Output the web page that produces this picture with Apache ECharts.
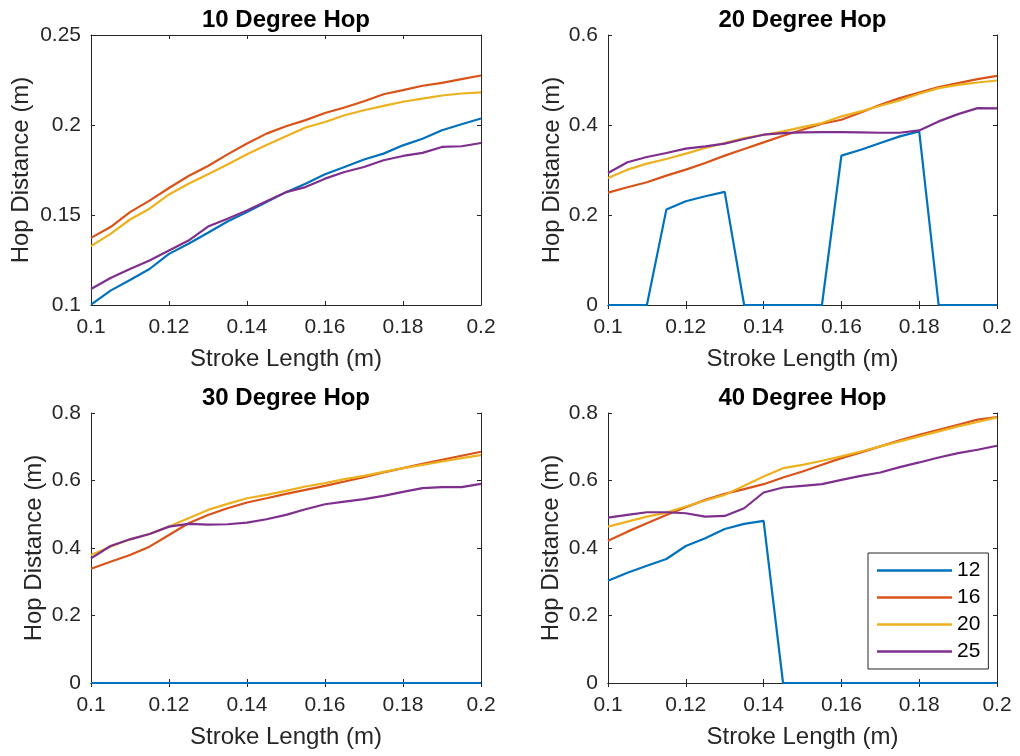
<!DOCTYPE html>
<html>
<head>
<meta charset="utf-8">
<script src="https://cdn.jsdelivr.net/npm/echarts@6/dist/echarts.min.js"></script>
<style>
html,body{margin:0;padding:0;background:#fff;}
#chart{width:1020px;height:756px;}
</style>
</head>
<body>
<div id="chart"></div>
<script>
// ---- data ----
const strokeLength = [0.1,0.105,0.11,0.115,0.12,0.125,0.13,0.135,0.14,0.145,0.15,0.155,0.16,0.165,0.17,0.175,0.18,0.185,0.19,0.195,0.2];
const seriesNames = ['12','16','20','25'];
const panelTitles = ['10 Degree Hop','20 Degree Hop','30 Degree Hop','40 Degree Hop'];
const xTicks = {min:0.1, max:0.2, interval:0.02};
const yTicks = [
  {min:0.1, max:0.25, interval:0.05},
  {min:0, max:0.6, interval:0.2},
  {min:0, max:0.8, interval:0.2},
  {min:0, max:0.8, interval:0.2}
];

const deg10_12 = [0.1002,0.108,0.1139,0.12,0.1284,0.134,0.1401,0.1464,0.1516,0.1572,0.1627,0.1674,0.1726,0.1767,0.1808,0.1841,0.1887,0.1924,0.1971,0.2004,0.2036];
const deg10_16 = [0.1373,0.1433,0.1516,0.158,0.165,0.1717,0.1772,0.1837,0.1897,0.1952,0.1993,0.2027,0.2067,0.2097,0.2132,0.2171,0.2194,0.2218,0.2234,0.2255,0.2275];
const deg10_20 = [0.1327,0.1395,0.1475,0.1535,0.1614,0.1674,0.1726,0.1781,0.1837,0.1889,0.1937,0.1986,0.2017,0.2054,0.2082,0.2106,0.2129,0.2147,0.2164,0.2175,0.2181];
const deg10_25 = [0.1089,0.115,0.12,0.1247,0.1303,0.1358,0.1436,0.1479,0.1525,0.1577,0.1627,0.1655,0.1702,0.1739,0.1767,0.1804,0.1828,0.1845,0.1878,0.1882,0.19];

const deg20_12 = [0,0,0,0.212,0.2306,0.2417,0.2513,0,0,0,0,0,0.3319,0.345,0.36,0.3747,0.3858,0,0,0,0];
const deg20_16 = [0.2498,0.2616,0.2727,0.2875,0.3008,0.3156,0.3319,0.3466,0.3614,0.3762,0.3895,0.4028,0.4117,0.4279,0.4449,0.4597,0.4723,0.4841,0.493,0.5018,0.5092];
const deg20_20 = [0.2823,0.3008,0.3141,0.3245,0.3363,0.3489,0.36,0.371,0.3784,0.3858,0.3954,0.4043,0.4191,0.4302,0.4427,0.4545,0.4693,0.4819,0.4893,0.4945,0.4989];
const deg20_25 = [0.2934,0.3171,0.3289,0.3378,0.3474,0.3526,0.3585,0.3688,0.3784,0.3821,0.3836,0.3843,0.3843,0.3836,0.3828,0.3828,0.388,0.408,0.4242,0.4375,0.4368];

const deg30_12 = [0,0,0,0,0,0,0,0,0,0,0,0,0,0,0,0,0,0,0,0,0];
const deg30_16 = [0.3386,0.3594,0.3792,0.404,0.4386,0.4733,0.498,0.5178,0.5347,0.5475,0.5604,0.5723,0.5842,0.597,0.6099,0.6238,0.6366,0.6495,0.6614,0.6733,0.6851];
const deg30_20 = [0.3792,0.404,0.4257,0.4416,0.4634,0.4881,0.5129,0.5307,0.5475,0.5574,0.5693,0.5822,0.5921,0.604,0.6139,0.6257,0.6366,0.6465,0.6564,0.6663,0.6752];
const deg30_25 = [0.3693,0.4059,0.4257,0.4416,0.4634,0.4713,0.4693,0.4703,0.4752,0.4851,0.498,0.5149,0.5297,0.5376,0.5446,0.5545,0.5663,0.5772,0.5802,0.5802,0.5901];

const deg40_12 = [0.303,0.3267,0.3475,0.3673,0.4059,0.4287,0.4564,0.4713,0.4802,0,0,0,0,0,0,0,0,0,0,0,0];
const deg40_16 = [0.4218,0.4485,0.4733,0.498,0.5208,0.5426,0.5604,0.5743,0.5891,0.6089,0.6267,0.6465,0.6663,0.6832,0.701,0.7188,0.7356,0.7505,0.7653,0.7802,0.7881];
const deg40_20 = [0.4634,0.4782,0.4931,0.505,0.5228,0.5406,0.5574,0.5842,0.6119,0.6366,0.6465,0.6584,0.6713,0.6861,0.701,0.7158,0.7307,0.7455,0.7604,0.7733,0.7871];
const deg40_25 = [0.4901,0.498,0.5059,0.5059,0.503,0.4931,0.495,0.5178,0.5644,0.5792,0.5842,0.5891,0.602,0.6139,0.6238,0.6396,0.6535,0.6683,0.6812,0.6911,0.703];

const panels = [
  [deg10_12, deg10_16, deg10_20, deg10_25],
  [deg20_12, deg20_16, deg20_20, deg20_25],
  [deg30_12, deg30_16, deg30_20, deg30_25],
  [deg40_12, deg40_16, deg40_20, deg40_25]
];

// ---- styling / layout ----
const colors = ['#0072BD','#D95319','#EDB120','#7E2F8E'];
const FONT = "'Liberation Sans', Arial, Helvetica, sans-serif";
const AX = '#262626';
const grids = [
  {left:91, top:35, width:390, height:270},
  {left:608, top:35, width:389, height:270},
  {left:91, top:413, width:390, height:270},
  {left:608, top:413, width:389, height:270}
];
const yNameGaps = [58, 44, 45, 45];

const xAxis = [], yAxis = [], series = [];
grids.forEach((g, i) => {
  const line = {show:true, lineStyle:{color:AX, width:1}};
  const tick = {show:true, inside:true, length:4, lineStyle:{color:AX, width:1}};
  xAxis.push({
    gridIndex:i, type:'value', position:'bottom', min:xTicks.min, max:xTicks.max, interval:xTicks.interval,
    axisLine:line, axisTick:tick, splitLine:{show:false},
    axisLabel:{color:AX, fontSize:21, fontFamily:FONT, margin:12},
    name:'Stroke Length (m)', nameLocation:'middle', nameGap:42,
    nameTextStyle:{color:AX, fontSize:24, fontFamily:FONT}
  });
  xAxis.push({
    gridIndex:i, type:'value', position:'top', min:xTicks.min, max:xTicks.max, interval:xTicks.interval,
    axisLine:line, axisTick:tick, splitLine:{show:false}, axisLabel:{show:false},
    name:panelTitles[i], nameLocation:'middle', nameGap:3,
    nameTextStyle:{color:'#000', fontSize:24, fontWeight:'bold', fontFamily:FONT, verticalAlign:'bottom'}
  });
  yAxis.push({
    gridIndex:i, type:'value', position:'left', min:yTicks[i].min, max:yTicks[i].max, interval:yTicks[i].interval,
    axisLine:line, axisTick:tick, splitLine:{show:false},
    axisLabel:{color:AX, fontSize:21, fontFamily:FONT, margin:10},
    name:'Hop Distance (m)', nameLocation:'middle', nameGap:yNameGaps[i],
    nameTextStyle:{color:AX, fontSize:24, fontFamily:FONT}
  });
  yAxis.push({
    gridIndex:i, type:'value', position:'right', min:yTicks[i].min, max:yTicks[i].max, interval:yTicks[i].interval,
    axisLine:line, axisTick:tick, splitLine:{show:false}, axisLabel:{show:false}
  });
  panels[i].forEach((vals, k) => {
    series.push({
      type:'line', name:seriesNames[k], xAxisIndex:2*i, yAxisIndex:2*i,
      data: strokeLength.map((x, j) => [x, vals[j]]),
      showSymbol:false, symbol:'none', clip:false,
      lineStyle:{color:colors[k], width:2.2},
      itemStyle:{color:colors[k]},
      emphasis:{disabled:true}
    });
  });
});

const chart = echarts.init(document.getElementById('chart'), null, {renderer:'canvas'});
chart.setOption({
  animation:false,
  backgroundColor:'#fff',
  color:colors,
  grid:grids,
  xAxis, yAxis, series,
  legend:{
    data:seriesNames,
    orient:'vertical', left:868, top:553,
    icon:'rect', itemWidth:75, itemHeight:2.5, itemGap:6,
    padding:[7,8,7,9],
    borderColor:AX, borderWidth:1, backgroundColor:'#fff',
    textStyle:{color:'#000', fontSize:21, fontFamily:FONT, lineHeight:20}
  }
});
</script>
</body>
</html>
